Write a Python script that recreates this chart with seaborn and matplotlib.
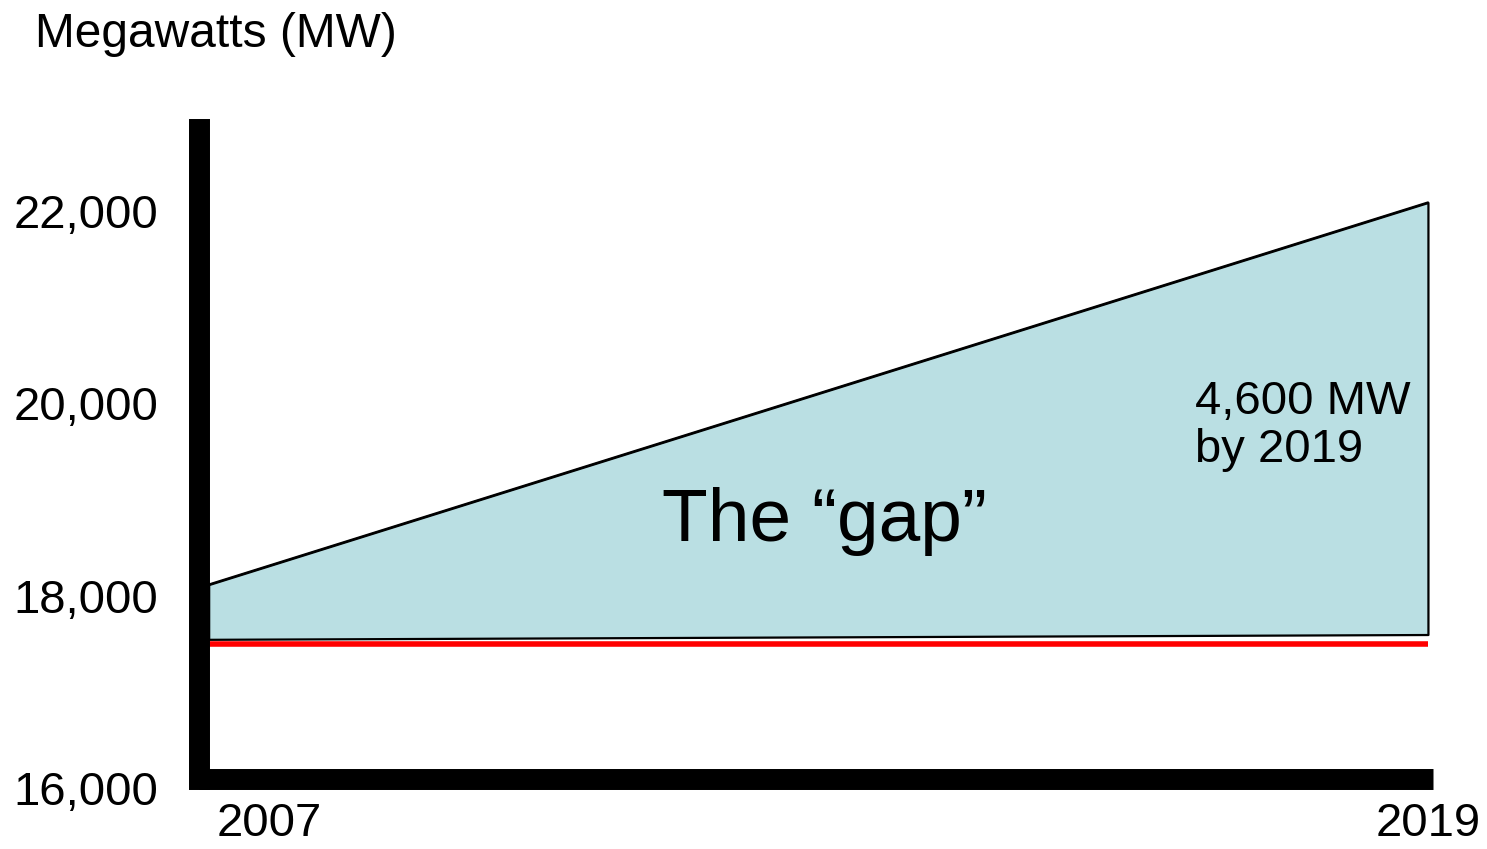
import numpy as np
import pandas as pd
import matplotlib.pyplot as plt
import seaborn as sns
from matplotlib.transforms import ScaledTranslation

# Values (MW)
years = [2007, 2019]
demand_mw = [18020, 22000]     # upper edge of the gap
supply_mw = [17450, 17500]     # lower edge of the gap
existing_mw = [17400, 17400]   # red line
ytick_vals = [16000, 18000, 20000, 22000]
ytick_labels = ['16,000', '18,000', '20,000', '22,000']
xtick_labels = ['2007', '2019']

sns.set_style('white')
plt.rcParams['font.family'] = ['Liberation Sans', 'DejaVu Sans']
plt.rcParams['text.color'] = 'black'

df = pd.DataFrame({'year': years, 'demand': demand_mw,
                   'supply': supply_mw, 'existing': existing_mw})

fig = plt.figure(figsize=(14.87, 8.49), dpi=100)
ax = fig.add_axes([0.1335, 0.0830, 0.8302, 0.7656])

# the gap
ax.fill_between(df['year'], df['supply'], df['demand'], facecolor='#badfe3',
                edgecolor='black', linewidth=1.6, zorder=1)
sns.lineplot(data=df, x='year', y='demand', color='black', linewidth=1.6, ax=ax, zorder=2)
sns.lineplot(data=df, x='year', y='existing', color='red', linewidth=4, ax=ax,
             zorder=2, solid_capstyle='butt')

ax.set_xlim(2006.9, 2019.05)
ax.set_ylim(16000, 22770)
ax.set_xlabel('')
ax.set_ylabel('')

# thick axes
for side in ['top', 'right']:
    ax.spines[side].set_visible(False)
for side in ['left', 'bottom']:
    ax.spines[side].set_linewidth(15.1)
    ax.spines[side].set_color('black')
ax.spines['left'].set_capstyle('projecting')
ax.spines['bottom'].set_capstyle('butt')

ax.set_yticks(ytick_vals, ytick_labels)
ax.set_xticks(years, xtick_labels)
ax.tick_params(axis='y', length=0, pad=29, labelsize=34, labelcolor='black')
ax.tick_params(axis='x', length=0, pad=17, labelsize=34, labelcolor='black')

# labels sit a little lower / offset as on the slide
for lbl in ax.get_yticklabels():
    lbl.set_transform(lbl.get_transform() + ScaledTranslation(0, -0.09, fig.dpi_scale_trans))
xl = ax.get_xticklabels()
xl[0].set_transform(xl[0].get_transform() + ScaledTranslation(0.61, 0, fig.dpi_scale_trans))

fig.text(35 / 1487, 1 - 47 / 849, 'Megawatts (MW)', fontsize=34.5, ha='left', va='baseline')

ax.text(2013.06, 18474, 'The \u201cgap\u201d', fontsize=54, ha='center', va='baseline')
ax.text(2016.71, 19797, '4,600 MW', fontsize=34, ha='left', va='baseline')
ax.text(2016.71, 19297, 'by 2019', fontsize=34, ha='left', va='baseline')

fig.savefig('out.png', dpi=100)
